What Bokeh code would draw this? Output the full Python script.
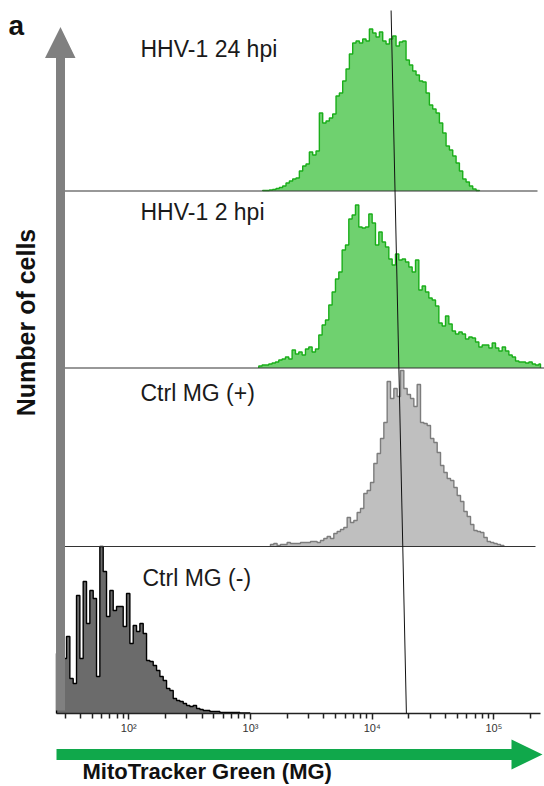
import math
import numpy as np
from bokeh.plotting import figure
from bokeh.models import Range1d, FixedTicker, Label, PolyAnnotation, CustomJSTickFormatter
from bokeh.embed import file_html
from bokeh.resources import INLINE

# ---------------- data ----------------
bin_step = 0.0274  # width of one histogram channel, in decades

row_labels = ["HHV-1 24 hpi", "HHV-1 2 hpi", "Ctrl MG (+)", "Ctrl MG (-)"]

# log10 of the left edge of the first channel of each histogram
hhv24_start = 3.100
hhv2_start = 3.068
ctrl_pos_start = 3.164
ctrl_neg_start = 1.406

hhv24_counts = [0.5, 0.5, 1, 1.5, 2.5, 3.5, 5, 8, 10, 12, 13, 20, 25, 27, 39, 36,
                40, 78, 68, 70, 73, 77, 95, 98, 110, 122, 137, 148, 150, 148, 152,
                150, 162, 158, 154, 159, 150, 147, 152, 155, 145, 149, 150, 131, 126,
                120, 116, 110, 109, 98, 86, 82, 78, 68, 58, 45, 41, 35, 28, 20, 12,
                9, 5, 2, 0.5]

hhv2_counts = [2, 3, 3, 4, 5, 6, 8, 9, 11, 9, 18, 14, 16, 13, 19, 21, 16, 19, 33,
               43, 48, 63, 76, 89, 96, 118, 123, 149, 153, 163, 141, 140, 141, 154,
               145, 123, 136, 126, 121, 109, 103, 114, 108, 109, 106, 101, 96, 108,
               78, 82, 76, 70, 68, 62, 45, 42, 52, 44, 37, 34, 36, 34, 29, 31, 30,
               26, 21, 23, 23, 20, 25, 20, 17, 21, 17, 13, 11, 7, 6, 6, 5, 6, 4, 3,
               4, 3]

ctrl_pos_counts = [2, 3, 1, 2, 2, 4, 3, 3, 3, 4, 4, 4, 5, 5, 4, 6, 8, 10, 8, 13,
                   15, 17, 19, 29, 24, 26, 34, 38, 53, 56, 64, 83, 93, 108, 124, 165,
                   148, 158, 150, 176, 158, 152, 148, 140, 162, 124, 123, 121, 108,
                   104, 94, 81, 74, 68, 66, 59, 51, 45, 35, 30, 22, 16, 15, 14, 9, 5,
                   4, 3, 2, 1]

ctrl_neg_counts = [60, 70, 55, 77, 35, 30, 118, 55, 132, 90, 123, 115, 37, 167, 142,
                   97, 123, 103, 107, 107, 87, 120, 70, 88, 82, 90, 80, 53, 52, 48,
                   43, 37, 33, 25, 23, 15, 13, 12, 10, 8, 7, 8, 5, 4, 3, 3, 2, 2, 2,
                   1, 1, 1, 1, 1, 1, 0.5, 0.5, 0.5]

# median marker line (MG+ reference), x at top and at bottom of the stack
marker_x = [14300, 19100]

tick_values = [100, 1000, 10000, 100000]
tick_labels = ["10\u00b2", "10\u00b3", "10\u2074", "10\u2075"]

# ---------------- layout helpers (picture pixels -> data) ----------------
PX_100 = 128.3     # picture x of 10^2
PX_DEC = 121.7     # pixels per decade
BASE_PY = 713      # picture y of the x axis line


def xd(px):
    return 10 ** (2 + (px - PX_100) / PX_DEC)


def yd(py):
    return BASE_PY - py


W, H = 544, 786
p = figure(width=W, height=H, x_axis_type="log",
           x_range=Range1d(xd(0), xd(W)), y_range=Range1d(yd(H), yd(0)),
           min_border_left=0, min_border_right=0, min_border_top=0,
           min_border_bottom=0, y_axis_location=None,
           toolbar_location=None, output_backend="svg")
p.grid.visible = False
p.outline_line_color = None
p.background_fill_color = "white"

row_base = [yd(190.5), yd(367.5), yd(546), 0]
rows = [
    (hhv24_start, hhv24_counts, "#6fd16f", "#1aae1a"),
    (hhv2_start, hhv2_counts, "#6fd16f", "#1aae1a"),
    (ctrl_pos_start, ctrl_pos_counts, "#bfbfbf", "#7c7c7c"),
    (ctrl_neg_start, ctrl_neg_counts, "#6b6b6b", "#000000"),
]


def step_path(start, counts, base):
    edges = start + bin_step * np.arange(len(counts) + 1)
    xs = [edges[0]]
    ys = [base]
    for i, c in enumerate(counts):
        xs += [edges[i], edges[i + 1]]
        ys += [base + c, base + c]
    xs.append(edges[-1])
    ys.append(base)
    return 10 ** np.array(xs), np.array(ys)


for (start, counts, fill, line), base in zip(rows, row_base):
    xs, ys = step_path(start, counts, base)
    xs = np.minimum(xs, xd(540))
    p.varea(x=xs, y1=np.full(len(xs), base), y2=ys, fill_color=fill)
    p.line(xs, ys, line_color=line, line_width=1.4)

# row separator lines and the axis base line
row_line_end = [537, 544, 535, 540]
for base, px_end in zip(row_base, row_line_end):
    p.segment(x0=[xd(56)], y0=[base], x1=[xd(px_end)], y1=[base],
              line_color="#333333" if base else "#222222",
              line_width=1.2 if base else 1.6)

# marker line
p.line(marker_x, [yd(10), 0], line_color="#111111", line_width=1)

# x axis, drawn at the base line of the bottom row
minor = [m * 10 ** e for e in range(1, 6) for m in range(2, 10)
         if 25 < m * 10 ** e < 240000]
ax = p.xaxis[0]
ax.fixed_location = 0
ax.ticker = FixedTicker(ticks=tick_values, minor_ticks=minor)
ax.formatter = CustomJSTickFormatter(
    args=dict(vals=tick_values, labs=tick_labels),
    code="const i = vals.indexOf(tick); return i >= 0 ? labs[i] : '';")
ax.axis_line_color = None
ax.major_tick_line_color = "#222222"
ax.minor_tick_line_color = "#222222"
ax.major_tick_line_width = 1.5
ax.minor_tick_line_width = 1.5
ax.major_tick_in = 0
ax.major_tick_out = 6
ax.minor_tick_in = 0
ax.minor_tick_out = 5
ax.major_label_standoff = 2
ax.major_label_text_font = "Liberation Sans"
ax.major_label_text_font_size = "11px"
ax.major_label_text_color = "#333333"

# arrows
gray_xs = [xd(55.5), xd(64.5), xd(64.5), xd(75), xd(60), xd(44.5), xd(55.5)]
gray_ys = [yd(710), yd(710), yd(57.5), yd(57.5), yd(26.5), yd(57.5), yd(57.5)]
p.add_layout(PolyAnnotation(xs=gray_xs, ys=gray_ys, fill_color="#808080",
                            fill_alpha=1, line_color=None))
green_xs = [xd(56), xd(511), xd(511), xd(542), xd(511), xd(511), xd(56)]
green_ys = [yd(748.5), yd(748.5), yd(739), yd(754), yd(769), yd(759.5), yd(759.5)]
p.add_layout(PolyAnnotation(xs=green_xs, ys=green_ys, fill_color="#10a84b",
                            fill_alpha=1, line_color=None))


# texts (baseline correction for the renderer's alphabetic placement)
def shift(size):
    return 0.3 * size


label_pos = [(140, 55), (140, 218), (140, 399), (142, 584)]
for txt, (lx, ly) in zip(row_labels, label_pos):
    p.add_layout(Label(x=xd(lx), y=yd(ly - shift(23)), text=txt,
                       text_font="Liberation Sans",
                       text_font_size="23px", text_color="#1a1a1a",
                       text_baseline="alphabetic"))

p.add_layout(Label(x=xd(8), y=yd(33 - shift(28)), text="a",
                   text_font="Liberation Sans",
                   text_font_size="28px", text_font_style="bold",
                   text_color="#111111", text_baseline="alphabetic"))
p.add_layout(Label(x=xd(33 - shift(25)), y=yd(322), text="Number of cells",
                   angle=math.pi / 2,
                   text_font="Liberation Sans", text_font_size="25px",
                   text_font_style="bold", text_color="#111111",
                   text_align="center", text_baseline="alphabetic"))
p.add_layout(Label(x=xd(82), y=yd(778 - shift(22)), text="MitoTracker Green (MG)",
                   text_font="Liberation Sans", text_font_size="22px",
                   text_font_style="bold", text_color="#111111",
                   text_baseline="alphabetic"))

open("out.html", "w").write(file_html(p, INLINE))
